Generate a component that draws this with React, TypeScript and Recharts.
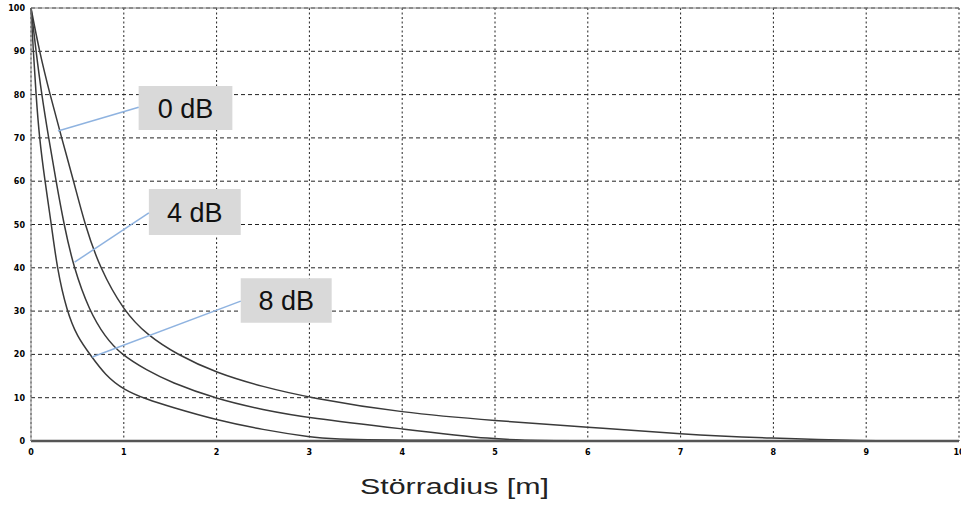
import React from "react";
import {
  LineChart, Line, XAxis, YAxis, CartesianGrid,
  ReferenceArea, ReferenceLine,
} from "recharts";

// curve samples: radius [m] -> value
const r0dB = [0, 0.09, 0.205, 0.33, 0.46, 0.58, 0.74, 1.0, 1.25, 1.57, 2, 2.5, 3, 4, 5, 6, 7, 8, 8.9, 10];
const v0dB = [100, 90, 80, 70, 60, 50, 40, 30, 24.5, 20, 15.7, 12.5, 10, 6.5, 4.7, 3.2, 1.6, 0.6, 0, 0];

const r4dB = [0, 0.054, 0.115, 0.19, 0.27, 0.355, 0.46, 0.63, 0.8, 0.97, 1.25, 1.5, 2, 2.5, 3, 4, 5, 5.5, 10];
const v4dB = [100, 90, 80, 70, 60, 50, 40, 30, 24, 20, 16.3, 13.6, 9.7, 7.2, 5.3, 2.8, 0.3, 0, 0];

const r8dB = [0, 0.025, 0.054, 0.09, 0.15, 0.22, 0.28, 0.385, 0.5, 0.636, 0.8, 1.0, 1.25, 1.5, 2, 2.5, 3, 3.4, 10];
const v8dB = [100, 90, 80, 70, 60, 50, 40, 30, 24, 20, 15.2, 11.8, 9.6, 7.9, 4.8, 2.6, 0.9, 0, 0];

const xTicks = [0, 1, 2, 3, 4, 5, 6, 7, 8, 9, 10];
const yTicks = [0, 10, 20, 30, 40, 50, 60, 70, 80, 90, 100];

// callout boxes and their leader lines, in data units
const callouts = [
  { label: "0 dB", x1: 1.16, x2: 2.17, y1: 71.8, y2: 82.0, from: [0.29, 71.6], to: [1.16, 77.1] },
  { label: "4 dB", x1: 1.27, x2: 2.26, y1: 47.6, y2: 58.2, from: [0.47, 41.3], to: [1.27, 52.7] },
  { label: "8 dB", x1: 2.26, x2: 3.24, y1: 27.3, y2: 37.6, from: [0.66, 19.4], to: [2.26, 32.3] },
];

const toPts = (xs: number[], ys: number[]) => xs.map((x, i) => ({ x, y: ys[i] }));
const series = [toPts(r0dB, v0dB), toPts(r4dB, v4dB), toPts(r8dB, v8dB)];

const tickFont = "DejaVu Sans, sans-serif";

const YTick = ({ x, y, payload }: any) => (
  <text x={x} y={y} dy={3} textAnchor="end" fontSize={8} fontWeight="bold"
    fontFamily={tickFont} fill="#000">{payload.value}</text>
);

const XTick = ({ x, y, payload }: any) => (
  <text x={x} y={y} dy={6} textAnchor="middle" fontSize={8} fontWeight="bold"
    fontFamily={tickFont} fill="#000">{payload.value}</text>
);

export default function App() {
  return (
    <div style={{ position: "absolute", left: 0, top: 0, width: 961, height: 513, background: "#fff" }}>
      <LineChart width={961} height={513} margin={{ top: 8, right: 2, left: 0, bottom: 52 }}>
        <CartesianGrid vertical={false} stroke="#222" strokeDasharray="4 3" />
        <CartesianGrid horizontal={false} stroke="#222" strokeDasharray="2 2.5" />
        <XAxis type="number" dataKey="x" domain={[0, 10]} ticks={xTicks} interval={0}
          tick={<XTick />} tickLine={false} height={20}
          axisLine={{ stroke: "#555", strokeWidth: 2.5 }} allowDuplicatedCategory={false} />
        <YAxis type="number" dataKey="y" domain={[0, 100]} ticks={yTicks} interval={0}
          tick={<YTick />} tickLine={false} tickSize={4} width={31}
          axisLine={{ stroke: "#888", strokeWidth: 1 }} />
        <ReferenceLine y={100} stroke="#888" strokeWidth={1} />
        {series.map((d, i) => (
          <Line key={i} data={d} dataKey="y" type="basis" stroke="#3a3a3a"
            strokeWidth={1.5} dot={false} isAnimationActive={false} />
        ))}
        {callouts.map((c) => (
          <ReferenceLine key={"l" + c.label}
            segment={[{ x: c.from[0], y: c.from[1] }, { x: c.to[0], y: c.to[1] }]}
            stroke="#8fb3e0" strokeWidth={1.5} />
        ))}
        {callouts.map((c) => (
          <ReferenceArea key={"a" + c.label} x1={c.x1} x2={c.x2} y1={c.y1} y2={c.y2}
            fill="#d9d9d9" fillOpacity={1} stroke="none"
            label={{ value: c.label, position: "center", fontSize: 27, fill: "#111",
              fontFamily: "Liberation Sans, Arial, sans-serif" }} />
        ))}
      </LineChart>
      <div style={{
        position: "absolute", left: 354, width: 200, top: 474, textAlign: "center",
        fontFamily: "Liberation Sans, Arial, sans-serif", fontSize: 22, color: "#222",
      }}>
        <span style={{ display: "inline-block", transform: "scaleX(1.38)" }}>Störradius [m]</span>
      </div>
    </div>
  );
}
